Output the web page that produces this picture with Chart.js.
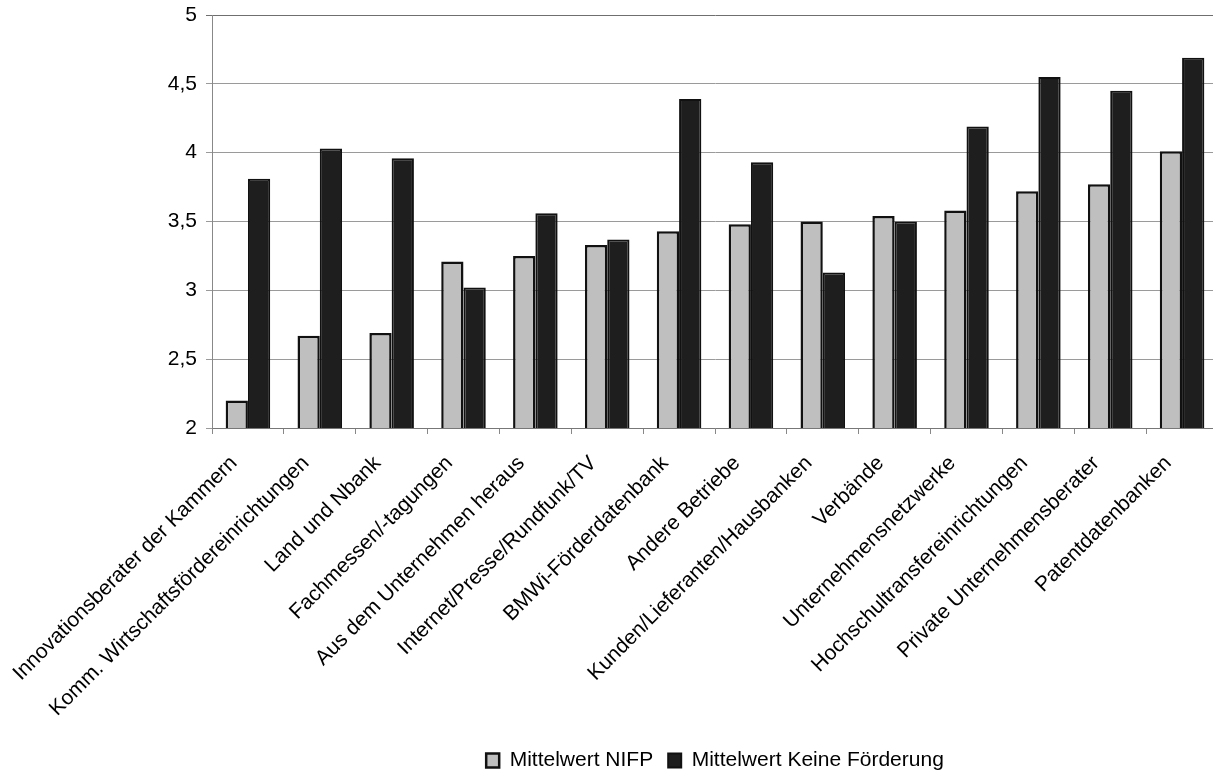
<!DOCTYPE html>
<html lang="de">
<head>
<meta charset="utf-8">
<title>Mittelwerte Informationsquellen</title>
<script src="https://cdn.jsdelivr.net/npm/chart.js@4.4.1/dist/chart.umd.min.js"></script>
<style>
  html, body { margin: 0; padding: 0; background: #fff; overflow: hidden; }
  #wrap { position: relative; width: 1222px; height: 774px; }
</style>
</head>
<body>
<div id="wrap"><canvas id="barChart"></canvas></div>
<script>
const categories = [
  "Innovationsberater der Kammern",
  "Komm. Wirtschaftsfördereinrichtungen",
  "Land und Nbank",
  "Fachmessen/-tagungen",
  "Aus dem Unternehmen heraus",
  "Internet/Presse/Rundfunk/TV",
  "BMWi-Förderdatenbank",
  "Andere Betriebe",
  "Kunden/Lieferanten/Hausbanken",
  "Verbände",
  "Unternehmensnetzwerke",
  "Hochschultransfereinrichtungen",
  "Private Unternehmensberater",
  "Patentdatenbanken"
];

const nifpValues = [2.2, 2.67, 2.69, 3.21, 3.25, 3.33, 3.43, 3.48, 3.5, 3.54, 3.58, 3.72, 3.77, 4.01];
const keineFoerderungValues = [3.81, 4.03, 3.96, 3.02, 3.56, 3.37, 4.39, 3.93, 3.13, 3.5, 4.19, 4.55, 4.45, 4.69];

const yTicks = [2, 2.5, 3, 3.5, 4, 4.5, 5];

const FONT = "'Liberation Sans', Arial, Helvetica, sans-serif";

function formatDe(v) {
  return String(v).replace(".", ",");
}

// keep the legend centred under the plot area and nudge it down a little
const legendPlacement = {
  id: "legendPlacement",
  afterLayout(chart) {
    const lg = chart.legend;
    const ca = chart.chartArea;
    if (!lg || !ca) return;
    lg.left = ca.left;
    lg.right = ca.right;
    lg.top += 7;
    lg.bottom += 7;
  }
};

const ctx = document.getElementById("barChart").getContext("2d");

const chart = new Chart(ctx, {
  type: "bar",
  data: {
    labels: categories,
    datasets: [
      {
        label: "Mittelwert NIFP",
        data: nifpValues,
        backgroundColor: "#bfbfbf",
        borderColor: "#111",
        borderWidth: 2.5,
        borderSkipped: false
      },
      {
        label: "Mittelwert Keine Förderung",
        data: keineFoerderungValues,
        backgroundColor: "#1e1e1e",
        borderColor: "#111",
        borderWidth: 2,
        borderSkipped: false
      }
    ]
  },
  plugins: [legendPlacement],
  options: {
    responsive: true,
    maintainAspectRatio: false,
    animation: false,
    layout: { padding: { top: 15, right: 4, left: 0, bottom: 0 } },
    datasets: {
      bar: { categoryPercentage: 0.62, barPercentage: 1.0 }
    },
    plugins: {
      tooltip: { enabled: false },
      legend: {
        display: true,
        position: "bottom",
        labels: {
          color: "#000",
          font: { family: FONT, size: 21 },
          boxWidth: 13,
          boxHeight: 14,
          padding: 15
        }
      }
    },
    scales: {
      x: {
        grid: {
          offset: true,
          drawOnChartArea: false,
          drawTicks: true,
          tickLength: 6,
          color: "#888"
        },
        border: { display: true, color: "#777", width: 1 },
        ticks: {
          minRotation: 45,
          maxRotation: 45,
          autoSkip: false,
          padding: 17,
          labelOffset: -14,
          color: "#000",
          font: { family: FONT, size: 21 }
        },
        afterFit(scale) {
          scale.height = 300;
        }
      },
      y: {
        min: 2,
        max: 5,
        afterBuildTicks(scale) {
          scale.ticks = yTicks.map((v) => ({ value: v }));
        },
        grid: {
          color: (c) => (c.tick && c.tick.value === 5 ? "#6f6f6f" : "#9a9a9a"),
          lineWidth: 1,
          tickLength: 6
        },
        border: { display: true, color: "#888", width: 1 },
        ticks: {
          padding: 9,
          color: "#000",
          font: { family: FONT, size: 21 },
          callback: (v) => formatDe(v)
        },
        afterFit(scale) {
          scale.width = 212;
          scale.paddingTop = 0;
          scale.paddingBottom = 0;
        }
      }
    }
  }
});
</script>
</body>
</html>
